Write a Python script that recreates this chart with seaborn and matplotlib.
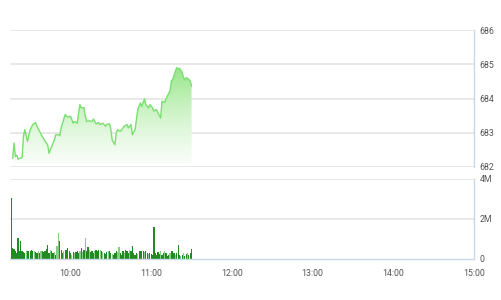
import numpy as np
import pandas as pd
import matplotlib
matplotlib.use("Agg")
import matplotlib.pyplot as plt
import seaborn as sns
from matplotlib.patches import PathPatch
from matplotlib.colors import LinearSegmentedColormap

# ---------------- data ----------------
price_times = ["09:17", "09:18", "09:19", "09:20", "09:21", "09:22", "09:24", "09:25", "09:26", "09:28",
               "09:30", "09:32", "09:34", "09:35", "09:37", "09:39", "09:42", "09:43", "09:44", "09:46",
               "09:48", "09:49", "09:51", "09:52", "09:53", "09:56", "09:57", "09:58", "10:00", "10:02",
               "10:03", "10:05", "10:06", "10:07", "10:08", "10:10", "10:11", "10:12", "10:14", "10:16",
               "10:17", "10:19", "10:21", "10:22", "10:24", "10:26", "10:27", "10:29", "10:30", "10:31",
               "10:33", "10:34", "10:35", "10:37", "10:39", "10:40", "10:42", "10:43", "10:45", "10:46",
               "10:48", "10:50", "10:52", "10:53", "10:55", "10:56", "10:58", "10:59", "11:01", "11:02",
               "11:04", "11:05", "11:07", "11:08", "11:10", "11:12", "11:14", "11:15", "11:16", "11:18",
               "11:19", "11:20", "11:21", "11:23", "11:24", "11:25", "11:26", "11:28", "11:29", "11:30"]
price_values = [682.25, 682.70, 682.30, 682.35, 682.23, 682.25, 682.27, 682.89, 683.09, 682.75,
                683.09, 683.24, 683.30, 683.19, 683.04, 682.89, 682.70, 682.65, 682.40, 682.60,
                682.79, 682.94, 682.94, 682.91, 683.14, 683.53, 683.48, 683.46, 683.48, 683.28,
                683.33, 683.28, 683.58, 683.82, 683.73, 683.73, 683.48, 683.33, 683.35, 683.33,
                683.40, 683.26, 683.30, 683.24, 683.28, 683.19, 683.24, 683.26, 683.09, 682.79,
                682.65, 682.99, 683.09, 683.04, 683.14, 683.19, 683.24, 683.14, 683.24, 682.94,
                683.09, 683.68, 683.87, 683.77, 683.99, 683.82, 683.73, 683.82, 683.73, 683.63,
                683.68, 683.58, 683.43, 683.92, 683.89, 684.07, 684.22, 684.51, 684.56, 684.80,
                684.90, 684.87, 684.88, 684.77, 684.61, 684.54, 684.61, 684.56, 684.51, 684.36]

# volume per minute from 09:16, in millions
volume_start = "09:16"
volume_m = [3.05, 0.55, 0.50, 0.38, 0.30, 1.05, 0.38, 0.92, 0.38, 0.33,
            0.30, 0.42, 0.38, 0.42, 0.38, 0.47, 0.42, 0.38, 0.33, 0.30,
            0.42, 0.30, 0.38, 0.42, 0.33, 0.38, 0.50, 0.68, 0.30, 0.47,
            0.38, 0.30, 0.33, 0.22, 0.63, 1.30, 0.88, 0.47, 0.30, 0.38,
            0.43, 0.47, 0.55, 0.38, 0.30, 0.22, 0.33, 0.30, 0.33, 0.38,
            0.30, 0.38, 0.55, 0.33, 0.47, 1.05, 0.38, 0.58, 0.47, 0.33,
            0.42, 0.30, 0.38, 0.47, 0.38, 0.43, 0.47, 0.38, 0.33, 0.30,
            0.27, 0.33, 0.38, 0.42, 0.30, 0.27, 0.22, 0.30, 0.38, 0.33,
            0.60, 0.30, 0.22, 0.38, 0.30, 0.47, 0.38, 0.30, 0.47, 0.38,
            0.67, 0.30, 0.22, 0.30, 0.27, 0.38, 0.42, 0.38, 0.42, 0.33,
            0.38, 0.30, 0.27, 0.30, 0.27, 0.22, 1.58, 0.30, 0.22, 0.33,
            0.27, 0.42, 0.22, 0.30, 0.38, 0.30, 0.17, 0.22, 0.30, 0.38,
            0.42, 0.30, 0.22, 0.30, 0.70, 0.22, 0.17, 0.22, 0.30, 0.17,
            0.25, 0.30, 0.22, 0.30, 0.50]
# d = dark bar, l = light bar
volume_shade = ("dddddddddd" "dldddddldd" "ldlddddddl" "ddldlldddl"
                "dddddldldd" "dldldlddld" "ddldddldld" "ddlddldddl"
                "ldddldddld" "ddddlddddl" "ddlddddddd" "dlddldddld"
                "ddldddldld" "dldd" "d")

price_ticks = [682, 683, 684, 685, 686]
volume_ticks = [0, 2, 4]
volume_tick_labels = ["0", "2M", "4M"]
time_ticks = ["10:00", "11:00", "12:00", "13:00", "14:00", "15:00"]
x_start, x_end = "09:15", "15:00"


def to_min(s):
    h, m = s.split(":")
    return int(h) * 60 + int(m)


px = np.array([to_min(t) for t in price_times], dtype=float)
py = np.array(price_values)
v0 = to_min(volume_start)
vx = np.array([v0 + i for i in range(len(volume_m))], dtype=float)
vy = np.array(volume_m)
shade = list(volume_shade[:len(volume_m)])

# ---------------- style ----------------
sns.set_theme(style="white")
plt.rcParams["font.family"] = ["Roboto", "DejaVu Sans"]

GRID = "#e6e6e6"
AXBLUE = "#c9d9ea"
TXT = "#555555"
LINE = "#78e06e"

fig = plt.figure(figsize=(5.01, 3.0), dpi=100)
W, H = 501, 300
L, R = 10 / W, 474 / W
ax1 = fig.add_axes([L, 1 - 167 / H, R - L, (167 - 30) / H])
ax2 = fig.add_axes([L, 1 - 259 / H, R - L, (259 - 179) / H])

xmin, xmax = to_min(x_start), to_min(x_end)

# ---- price panel ----
for yv in price_ticks:
    ax1.axhline(yv, color=GRID, lw=1.3, zorder=0)

poly = ax1.fill_between(px, py, price_ticks[0] + 0.1, color="none", lw=0)
grad = np.linspace(0, 1, 256).reshape(-1, 1)
cmap = LinearSegmentedColormap.from_list(
    "g", ["#fbfefb", "#e2f8de", "#c2f0b9", "#98e68d"])
img = ax1.imshow(grad, cmap=cmap, aspect="auto", origin="lower",
                 extent=[px.min(), px.max(), price_ticks[0] + 0.1, py.max()], zorder=1)
path = poly.get_paths()[0]
patch = PathPatch(path, transform=ax1.transData, facecolor="none", edgecolor="none")
ax1.add_patch(patch)
img.set_clip_path(patch)
ax1.set_xlim(xmin, xmax)
ax1.set_ylim(price_ticks[0], price_ticks[-1])

sns.lineplot(x=px, y=py, ax=ax1, color=LINE, lw=1.0, zorder=3)

ax1.set_xticks([])
ax1.yaxis.tick_right()
ax1.set_yticks(price_ticks)
ax1.set_yticklabels([str(t) for t in price_ticks])
ax1.tick_params(axis="y", length=0, pad=4, labelsize=6.3, labelcolor=TXT)
for s in ["top", "left", "bottom"]:
    ax1.spines[s].set_visible(False)
ax1.spines["right"].set_color(AXBLUE)
ax1.spines["right"].set_linewidth(1.0)
ax1.set_facecolor("none")
ax1.set_xlabel("")

# ---- volume panel ----
ax2.set_xlim(xmin, xmax)
ax2.set_ylim(0, 4)
for yv in volume_ticks[1:]:
    ax2.axhline(yv, color=GRID, lw=1.3, zorder=0)
colors = ["#218a21" if c == "d" else "#86cc86" for c in shade]
ax2.bar(vx, vy, width=0.9, color=colors, linewidth=0, zorder=2)

ax2.yaxis.tick_right()
ax2.set_yticks(volume_ticks)
ax2.set_yticklabels(volume_tick_labels)
ax2.tick_params(axis="y", length=0, pad=4, labelsize=6.3, labelcolor=TXT)
ax2.set_xticks([to_min(t) for t in time_ticks])
ax2.set_xticklabels(time_ticks)
ax2.tick_params(axis="x", length=4, width=1, color=AXBLUE, pad=3,
                labelsize=6.3, labelcolor=TXT, direction="out")
for s in ["top", "left"]:
    ax2.spines[s].set_visible(False)
for s in ["right", "bottom"]:
    ax2.spines[s].set_color(AXBLUE)
    ax2.spines[s].set_linewidth(1.0)
ax2.set_facecolor("none")
ax2.set_xlabel("")

fig.savefig("out.png", dpi=100, facecolor="white")
